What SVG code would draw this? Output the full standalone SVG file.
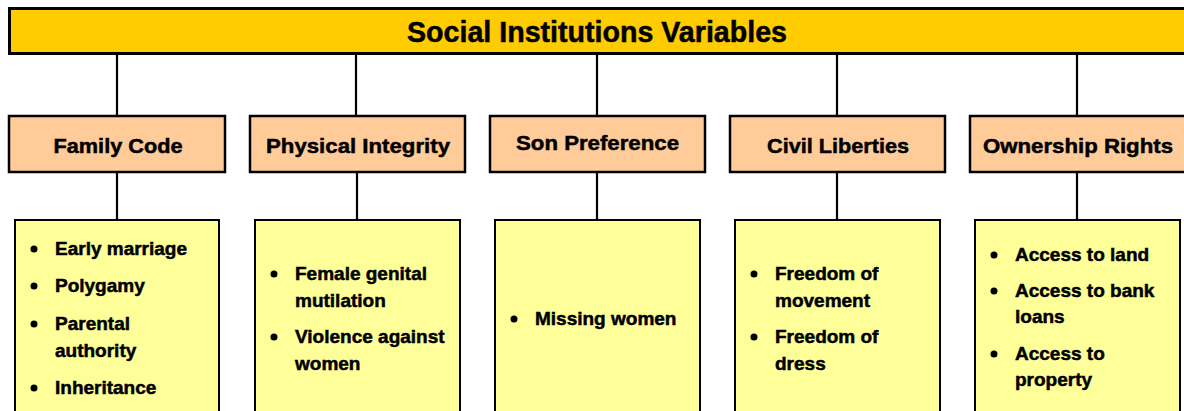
<svg xmlns="http://www.w3.org/2000/svg" width="1184" height="411" viewBox="0 0 1184 411">
<style>
.title{fill:#FFCC00;stroke:#000;stroke-width:3}
.cat{fill:#FFCC99;stroke:#000;stroke-width:2.5}
.list{fill:#FFFF99;stroke:#000;stroke-width:2}
.conn{stroke:#000;stroke-width:2.2;fill:none}
text{font-family:"Liberation Sans",Arial,sans-serif;font-weight:bold;fill:#000;stroke:#000;stroke-width:0.5}
.tt{font-size:29px}
.ct{font-size:21px}
.it{font-size:19px}
.b{fill:#000}
</style>
<g id="connectors">
<path class="conn" d="M117 54V116M117 172V220"/>
<path class="conn" d="M356 54V116M357 172V220"/>
<path class="conn" d="M597 54V116M597 172V220"/>
<path class="conn" d="M837 54V116M837 172V220"/>
<path class="conn" d="M1077 54V116M1077 172V220"/>
</g>
<g id="title">
<rect class="title" x="9.5" y="8.5" width="1180" height="45"/>
<text class="tt" x="597" y="42" text-anchor="middle" textLength="380" lengthAdjust="spacingAndGlyphs">Social Institutions Variables</text>
</g>
<g id="family-code">
<rect class="cat" x="9" y="116" width="216" height="56"/>
<text class="ct" x="118" y="153" text-anchor="middle" textLength="129" lengthAdjust="spacingAndGlyphs">Family Code</text>
</g>
<g id="physical-integrity">
<rect class="cat" x="250" y="116" width="215" height="56"/>
<text class="ct" x="358" y="153" text-anchor="middle" textLength="184" lengthAdjust="spacingAndGlyphs">Physical Integrity</text>
</g>
<g id="son-preference">
<rect class="cat" x="490" y="116" width="215" height="56"/>
<text class="ct" x="597.5" y="150" text-anchor="middle" textLength="163" lengthAdjust="spacingAndGlyphs">Son Preference</text>
</g>
<g id="civil-liberties">
<rect class="cat" x="730" y="116" width="215" height="56"/>
<text class="ct" x="838" y="153" text-anchor="middle" textLength="142" lengthAdjust="spacingAndGlyphs">Civil Liberties</text>
</g>
<g id="ownership-rights">
<rect class="cat" x="970" y="116" width="220" height="56"/>
<text class="ct" x="1078" y="153" text-anchor="middle" textLength="190" lengthAdjust="spacingAndGlyphs">Ownership Rights</text>
</g>
<g id="family-code-items">
<rect class="list" x="15" y="220" width="204" height="200"/>
<circle class="b" cx="34" cy="249" r="3.5"/>
<text class="it" x="55" y="255">Early marriage</text>
<circle class="b" cx="34" cy="286" r="3.5"/>
<text class="it" x="55" y="292">Polygamy</text>
<circle class="b" cx="34" cy="324" r="3.5"/>
<text class="it" x="55" y="330">Parental</text>
<text class="it" x="55" y="357">authority</text>
<circle class="b" cx="34" cy="388" r="3.5"/>
<text class="it" x="55" y="394">Inheritance</text>
</g>
<g id="physical-integrity-items">
<rect class="list" x="255" y="220" width="205" height="200"/>
<circle class="b" cx="274" cy="274" r="3.5"/>
<text class="it" x="295" y="280">Female genital</text>
<text class="it" x="295" y="307">mutilation</text>
<circle class="b" cx="274" cy="337" r="3.5"/>
<text class="it" x="295" y="343">Violence against</text>
<text class="it" x="295" y="370">women</text>
</g>
<g id="son-preference-items">
<rect class="list" x="495" y="220" width="205" height="200"/>
<circle class="b" cx="514" cy="319" r="3.5"/>
<text class="it" x="535" y="325">Missing women</text>
</g>
<g id="civil-liberties-items">
<rect class="list" x="735" y="220" width="205" height="200"/>
<circle class="b" cx="754" cy="274" r="3.5"/>
<text class="it" x="775" y="280">Freedom of</text>
<text class="it" x="775" y="307">movement</text>
<circle class="b" cx="754" cy="337" r="3.5"/>
<text class="it" x="775" y="343">Freedom of</text>
<text class="it" x="775" y="370">dress</text>
</g>
<g id="ownership-rights-items">
<rect class="list" x="975" y="220" width="205" height="200"/>
<circle class="b" cx="994" cy="255" r="3.5"/>
<text class="it" x="1015" y="261">Access to land</text>
<circle class="b" cx="994" cy="291" r="3.5"/>
<text class="it" x="1015" y="297">Access to bank</text>
<text class="it" x="1015" y="323">loans</text>
<circle class="b" cx="994" cy="354" r="3.5"/>
<text class="it" x="1015" y="360">Access to</text>
<text class="it" x="1015" y="386">property</text>
</g>
</svg>
